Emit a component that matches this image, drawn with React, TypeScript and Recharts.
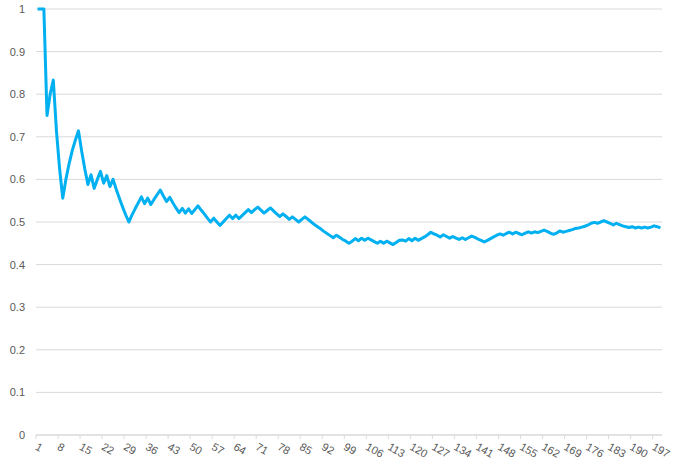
import { LineChart, Line, XAxis, YAxis, CartesianGrid } from "recharts";

// running share of hits after each trial
const share = [
  1, 1, 1, 0.75, 0.8, 0.833, 0.714, 0.625, 0.556, 0.6,
  0.636, 0.667, 0.692, 0.714, 0.667, 0.625, 0.588, 0.611, 0.579, 0.6,
  0.619, 0.591, 0.609, 0.583, 0.6, 0.577, 0.556, 0.536, 0.517, 0.5,
  0.516, 0.531, 0.545, 0.559, 0.543, 0.556, 0.541, 0.553, 0.564, 0.575,
  0.561, 0.548, 0.558, 0.545, 0.533, 0.522, 0.532, 0.521, 0.531, 0.52,
  0.529, 0.538, 0.528, 0.519, 0.509, 0.5, 0.509, 0.5, 0.492, 0.5,
  0.508, 0.516, 0.508, 0.516, 0.508, 0.515, 0.522, 0.529, 0.522, 0.529,
  0.535, 0.528, 0.521, 0.527, 0.533, 0.526, 0.519, 0.513, 0.519, 0.513,
  0.506, 0.512, 0.506, 0.5, 0.506, 0.512, 0.506, 0.5, 0.494, 0.489,
  0.484, 0.478, 0.473, 0.468, 0.463, 0.469, 0.464, 0.459, 0.455, 0.45,
  0.455, 0.461, 0.456, 0.462, 0.457, 0.462, 0.458, 0.454, 0.45, 0.455,
  0.45, 0.455, 0.451, 0.447, 0.452, 0.457, 0.458, 0.455, 0.461, 0.456,
  0.462, 0.457, 0.461, 0.465, 0.47, 0.476, 0.472, 0.469, 0.465, 0.47,
  0.466, 0.462, 0.466, 0.462, 0.459, 0.463, 0.459, 0.463, 0.467, 0.464,
  0.46, 0.457, 0.453, 0.457, 0.461, 0.465, 0.469, 0.472, 0.469, 0.473,
  0.476, 0.472, 0.476, 0.473, 0.47, 0.474, 0.477, 0.474, 0.477, 0.475,
  0.478, 0.481, 0.478, 0.474, 0.471, 0.474, 0.479, 0.476, 0.478, 0.48,
  0.482, 0.485, 0.486, 0.488, 0.49, 0.493, 0.497, 0.499, 0.497, 0.5,
  0.503, 0.5, 0.497, 0.493, 0.497, 0.494, 0.491, 0.489, 0.487, 0.489,
  0.486, 0.488, 0.486, 0.488, 0.486, 0.488, 0.491, 0.489, 0.486,
];

const trials = share.map((_, i) => i + 1);
const yTicks = [0, 0.1, 0.2, 0.3, 0.4, 0.5, 0.6, 0.7, 0.8, 0.9, 1];

const data = trials.map((t, i) => ({ trial: t, share: share[i] }));

const W = 683;
const H = 470;
const plotLeft = 36;
const plotRight = 662;
const step = (plotRight - plotLeft) / share.length;
const font = "'Liberation Sans', Arial, sans-serif";

function XTick({ x, y, payload }: any) {
  const edge = x - step / 2;
  return (
    <g>
      <line x1={edge} x2={edge} y1={y} y2={y + 4} stroke="#d9d9d9" />
      <text
        transform={`translate(${x - 3},${y + 14}) rotate(30)`}
        fontSize={11}
        fontFamily={font}
        fill="#595959"
        textAnchor="start"
      >
        {payload.value}
      </text>
    </g>
  );
}

export default function App() {
  return (
    <div style={{ position: "absolute", left: 0, top: 0, background: "#fff" }}>
      <LineChart
        width={W}
        height={H}
        data={data}
        margin={{ top: 9, right: W - plotRight, bottom: 5, left: 0 }}
      >
        <CartesianGrid vertical={false} stroke="#d9d9d9" />
        <XAxis
          dataKey="trial"
          interval={6}
          height={30}
          padding={{ left: step / 2, right: step / 2 }}
          axisLine={{ stroke: "#d9d9d9" }}
          tickLine={false}
          tickSize={0}
          tickMargin={0}
          tick={<XTick />}
        />
        <YAxis
          width={plotLeft}
          domain={[0, 1]}
          ticks={yTicks}
          axisLine={false}
          tickLine={false}
          tickSize={0}
          tickMargin={11}
          tick={{ fontSize: 11, fill: "#595959", fontFamily: font }}
        />
        <Line
          type="linear"
          dataKey="share"
          stroke="#00b0f0"
          strokeWidth={3}
          strokeLinejoin="round"
          dot={false}
          isAnimationActive={false}
        />
      </LineChart>
    </div>
  );
}
